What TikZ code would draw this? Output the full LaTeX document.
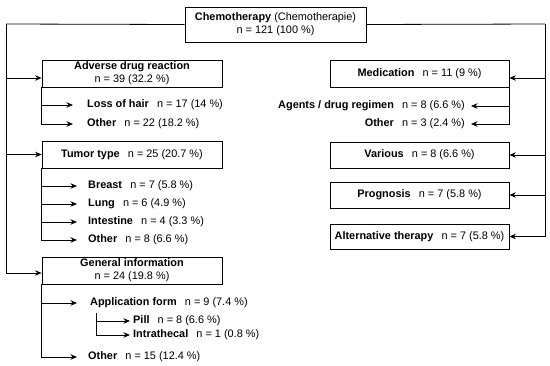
\documentclass[tikz,border=0pt]{standalone}
\usepackage{fontspec}
\setmainfont{Liberation Sans}
\usetikzlibrary{arrows.meta,calc}
\begin{document}
\begin{tikzpicture}[x=1pt,y=-1pt,
  font=\fontsize{10.9}{13}\selectfont,
  box/.style={draw,line width=0.8pt,minimum width=180pt,minimum height=27pt,inner sep=1pt,align=center},
  leaf/.style={inner sep=0pt,anchor=west},
  leafr/.style={inner sep=0pt,anchor=east},
  conn/.style={line width=0.8pt},
  arr/.style={line width=0.8pt,-{Stealth[length=6.5pt,width=5.5pt]}}]
\useasboundingbox (0,0) rectangle (550,365);
\newcommand{\gap}{\hspace{0.75em}}
% boxes
\node[box,minimum width=181pt,minimum height=35pt] (top) at (275.5,24.5) {\textbf{Chemotherapy} (Chemotherapie)\\n = 121 (100 \%)};
\node[box] (adv) at (132,73.5) {\textbf{Adverse drug reaction}\\n = 39 (32.2 \%)};
\node[box] (tum) at (132,154.5) {\textbf{Tumor type}\gap n = 25 (20.7 \%)};
\node[box] (gen) at (132,270.5) {\textbf{General information}\\n = 24 (19.8 \%)};
\node[box,minimum width=179pt] (med) at (419.5,73.5) {\textbf{Medication}\gap n = 11 (9 \%)};
\node[box,minimum width=179pt,minimum height=26pt] (var) at (419.5,155) {\textbf{Various}\gap n = 8 (6.6 \%)};
\node[box,minimum width=179pt,minimum height=26pt] (pro) at (419.5,195) {\textbf{Prognosis}\gap n = 7 (5.8 \%)};
\node[box,minimum width=179pt,minimum height=25pt] (alt) at (419.5,236.5) {\textbf{Alternative therapy}\gap n = 7 (5.8 \%)};
% leaves
\node[leaf] (hair) at (87,105) {\textbf{Loss of hair}\gap n = 17 (14 \%)};
\node[leaf] (advo) at (87,124) {\textbf{Other}\gap n = 22 (18.2 \%)};
\node[leaf] (bre) at (88,186) {\textbf{Breast}\gap n = 7 (5.8 \%)};
\node[leaf] (lun) at (88,204) {\textbf{Lung}\gap n = 6 (4.9 \%)};
\node[leaf] (int) at (88,222) {\textbf{Intestine}\gap n = 4 (3.3 \%)};
\node[leaf] (tumo) at (88,240) {\textbf{Other}\gap n = 8 (6.6 \%)};
\node[leaf] (app) at (90,303) {\textbf{Application form}\gap n = 9 (7.4 \%)};
\node[leaf] (pill) at (133,321) {\textbf{Pill}\gap n = 8 (6.6 \%)};
\node[leaf] (intr) at (133,335) {\textbf{Intrathecal}\gap n = 1 (0.8 \%)};
\node[leaf] (geno) at (88,357) {\textbf{Other}\gap n = 15 (12.4 \%)};
\node[leafr] (age) at (465,106) {\textbf{Agents / drug regimen}\gap n = 8 (6.6 \%)};
\node[leafr] (medo) at (465,124) {\textbf{Other}\gap n = 3 (2.4 \%)};
% trunk coordinates
\coordinate (L) at (6,24);
\coordinate (R) at (545,24);
\coordinate (P) at (96,313);
% left trunk
\draw[conn] (top.west) -- (L);
\draw[arr] (L) |- ([yshift=-4.5pt]adv.west);
\draw[arr] (L) |- (tum.west);
\draw[arr] (L) |- ([yshift=-2.5pt]gen.west);
% right trunk
\draw[conn] (top.east) -- (R);
\draw[arr] (R) |- ([yshift=-4.5pt]med.east);
\draw[arr] (R) |- (var.east);
\draw[arr] (R) |- (pro.east);
\draw[arr] (R) |- (alt.east);
% adverse leaves
\draw[arr] (adv.south west) |- ([xshift=-14pt]hair.west);
\draw[arr] (adv.south west) |- ([xshift=-14pt]advo.west);
% tumor leaves
\draw[arr] (tum.south west) |- ([xshift=-11pt]bre.west);
\draw[arr] (tum.south west) |- ([xshift=-11pt]lun.west);
\draw[arr] (tum.south west) |- ([xshift=-11pt]int.west);
\draw[arr] (tum.south west) |- ([xshift=-11pt]tumo.west);
% general leaves
\draw[arr] (gen.south west) |- ([xshift=-13pt]app.west);
\draw[arr] (gen.south west) |- ([xshift=-11pt]geno.west);
\draw[arr] (P) |- ([xshift=-3pt]pill.west);
\draw[arr] (P) |- ([xshift=-3pt]intr.west);
% medication leaves
\draw[arr] (med.south east) |- ([xshift=6pt]age.east);
\draw[arr] (med.south east) |- ([xshift=6pt]medo.east);
\end{tikzpicture}
\end{document}
